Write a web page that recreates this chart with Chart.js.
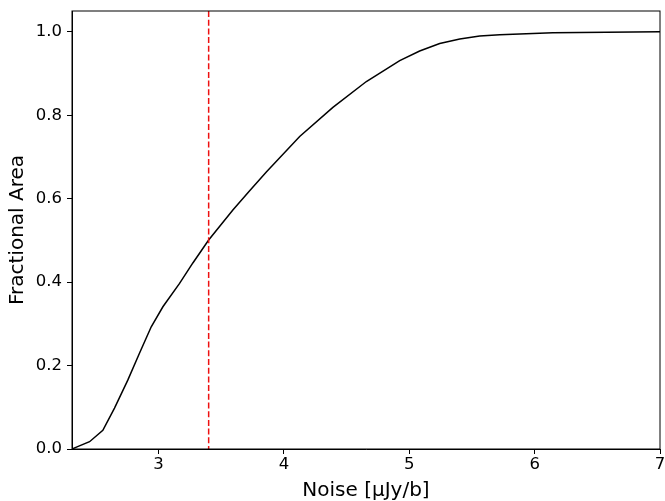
<!DOCTYPE html>
<html>
<head>
<meta charset="utf-8">
<script src="https://cdn.jsdelivr.net/npm/chart.js@4"></script>
<style>
  html, body { margin: 0; padding: 0; background: #fff; }
  #wrap { width: 665px; height: 501px; }
</style>
</head>
<body>
<div id="wrap"><canvas id="c" width="665" height="501"></canvas></div>
<script>
// Cumulative fraction of the map area below a given noise level
const noise = [2.31, 2.35, 2.45, 2.556, 2.649, 2.755, 2.849, 2.942, 3.035, 3.168, 3.274, 3.40,
               3.593, 3.727, 3.860, 4.126, 4.391, 4.658, 4.924, 5.083, 5.243, 5.403, 5.562,
               5.722, 6.145, 7.0];
const fraction = [0.0, 0.005, 0.0175, 0.045, 0.098, 0.165, 0.230, 0.293, 0.341, 0.397, 0.446, 0.501,
                  0.573, 0.619, 0.664, 0.749, 0.819, 0.881, 0.931, 0.954, 0.972, 0.983, 0.990,
                  0.993, 0.998, 1.0];

// Median noise marker
const medianNoise = 3.4;

const xTicks = [3, 4, 5, 6, 7];
const yTicks = [0.0, 0.2, 0.4, 0.6, 0.8, 1.0];

const FONT = 'DejaVu Sans';

// Full box around the plot plus the dashed marker line
const framePlugin = {
  id: 'frame',
  afterDatasetsDraw(chart) {
    const { ctx, chartArea: a, scales } = chart;
    const px = scales.x.getPixelForValue(medianNoise);
    ctx.save();
    ctx.beginPath();
    ctx.strokeStyle = '#ee1111';
    ctx.lineWidth = 1.5;
    ctx.setLineDash([6, 2.7]);
    ctx.moveTo(px, a.top);
    ctx.lineTo(px, a.bottom);
    ctx.stroke();
    ctx.restore();

    ctx.save();
    ctx.strokeStyle = '#000';
    ctx.lineWidth = 1;
    ctx.strokeRect(a.left, a.top, a.right - a.left, a.bottom - a.top);
    ctx.restore();
  }
};

const points = noise.map((x, i) => ({ x, y: fraction[i] }));

new Chart(document.getElementById('c'), {
  type: 'line',
  data: {
    datasets: [{
      data: points,
      borderColor: '#000',
      borderWidth: 1.5,
      pointRadius: 0,
      tension: 0,
      fill: false
    }]
  },
  options: {
    responsive: false,
    animation: false,
    layout: { padding: { top: 11, right: 5, left: 0, bottom: 0 } },
    plugins: { legend: { display: false }, tooltip: { enabled: false } },
    scales: {
      x: {
        type: 'linear',
        min: 2.31,
        max: 7,
        afterBuildTicks: s => { s.ticks = xTicks.map(v => ({ value: v })); },
        afterFit: s => { s.height = 52; s.paddingLeft = 0; s.paddingRight = 0; },
        grid: { drawOnChartArea: false, drawTicks: true, tickLength: 5, color: '#000', tickWidth: 1 },
        border: { display: true, color: '#000', width: 1 },
        ticks: {
          color: '#000',
          font: { family: FONT, size: 16.5 },
          padding: 1,
          maxRotation: 0,
          autoSkip: false,
          callback: v => String(v)
        },
        title: {
          display: true,
          text: 'Noise [μJy/b]',
          color: '#000',
          font: { family: FONT, size: 20, lineHeight: 1 },
          padding: { top: 0, bottom: 0 }
        }
      },
      y: {
        type: 'linear',
        min: 0,
        max: 1.05,
        afterBuildTicks: s => { s.ticks = yTicks.map(v => ({ value: v })); },
        afterFit: s => { s.width = 72; s.paddingTop = 0; s.paddingBottom = 0; },
        grid: { drawOnChartArea: false, drawTicks: true, tickLength: 5, color: '#000', tickWidth: 1 },
        border: { display: true, color: '#000', width: 1 },
        ticks: {
          color: '#000',
          font: { family: FONT, size: 16.5 },
          padding: 5,
          autoSkip: false,
          callback: v => v.toFixed(1)
        },
        title: {
          display: true,
          text: 'Fractional Area',
          color: '#000',
          font: { family: FONT, size: 20, lineHeight: 1 },
          padding: { top: 8, bottom: 0 }
        }
      }
    }
  },
  plugins: [framePlugin]
});
</script>
</body>
</html>
